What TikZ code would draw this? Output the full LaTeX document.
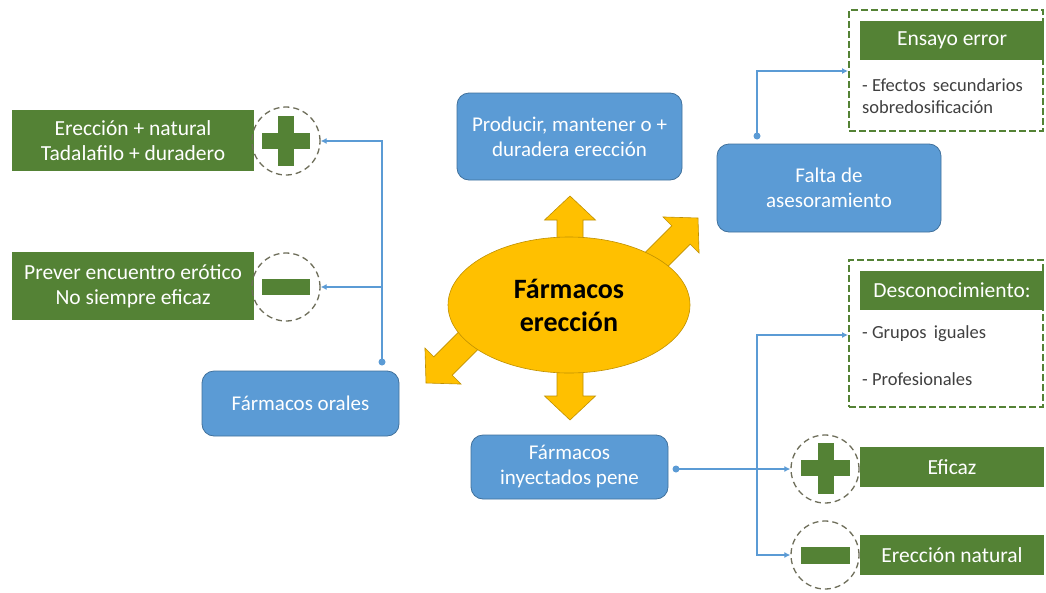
\documentclass[tikz,border=0pt]{standalone}
\usepackage{fontspec}
\setmainfont{Carlito}
\usetikzlibrary{arrows.meta,shapes.geometric}
\definecolor{grn}{HTML}{548235}
\definecolor{blu}{HTML}{5B9BD5}
\definecolor{bludark}{HTML}{41719C}
\definecolor{gold}{HTML}{FFC000}
\definecolor{golddark}{HTML}{BF9000}
\definecolor{circgray}{HTML}{6E6E5A}
\definecolor{txtgray}{HTML}{404040}
\tikzset{
  greenbox/.style={rectangle, fill=grn, text=white, inner sep=0pt, align=center, font=\fontsize{21.5}{25}\selectfont},
  bluebox/.style={rectangle, fill=blu, draw=bludark, line width=0.8pt, rounded corners=12pt, text=white, inner sep=0pt, align=center, font=\fontsize{21}{25}\selectfont},
  dcirc/.style={circle, draw=circgray, line width=1.3pt, dash pattern=on 6pt off 4pt, minimum size=68pt, inner sep=0pt},
  dbox/.style={rectangle, draw=grn, line width=2pt, dash pattern=on 7pt off 3pt, inner sep=0pt},
  sign/.style={fill=grn},
  conn/.style={draw=blu, line width=1.8pt, -{Latex[length=6pt,width=6pt]}},
  dotc/.style={circle, fill=blu, inner sep=0pt, minimum size=7pt},
  gaw/.style={fill=gold, draw=golddark, line width=0.6pt, line join=miter},
  itemtxt/.style={text=txtgray, anchor=west, inner sep=0pt, font=\fontsize{18.5}{22}\selectfont}
}
\newcommand{\goldarrow}[3]{% tip, angle, length
  \draw[gaw, shift={(#1)}, rotate=#2] (0,0) -- (-24,25.5) -- (-24,13) -- (-#3,13) -- (-#3,-13) -- (-24,-13) -- (-24,-25.5) -- cycle;}
\begin{document}
\begin{tikzpicture}[x=1pt,y=-1pt]
\useasboundingbox (0,0) rectangle (1046,592);
\fill[white] (0,0) rectangle (1046,592);

% gold arrows behind ellipse
\goldarrow{570,196}{90}{70}
\goldarrow{570,420}{-90}{70}
\goldarrow{698,218}{45}{100}
\goldarrow{426,383}{-135}{100}
\node[ellipse, fill=gold, draw=golddark, line width=0.6pt, minimum width=242pt, minimum height=136pt, inner sep=0pt,
  align=center, font=\bfseries\fontsize{28}{33}\selectfont] (center) at (569,305) {Fármacos\\erección};

% blue boxes
\node[bluebox, minimum width=225pt, minimum height=87pt] (prod) at (569.5,136.5) {Producir, mantener o +\\duradera erección};
\node[bluebox, minimum width=224pt, minimum height=88pt] (falta) at (829,188) {Falta de\\asesoramiento};
\node[bluebox, minimum width=197pt, minimum height=65pt] (orales) at (300.5,403.5) {Fármacos orales};
\node[bluebox, minimum width=197pt, minimum height=64pt] (iny) at (569.5,467) {Fármacos\\inyectados pene};

% left green boxes and circles
\node[greenbox, minimum width=242pt, minimum height=61pt] (g1) at (133,140.5) {Erección + natural\\Tadalafilo + duradero};
\node[greenbox, minimum width=242pt, minimum height=68pt] (g2) at (133,286) {Prever encuentro erótico\\No siempre eficaz};
\node[dcirc] (c1) at (286,141) {};
\node[dcirc] (c2) at (286,287) {};
\fill[sign] (262,133) rectangle (310,149);
\fill[sign] (278,116) rectangle (294,166);
\fill[sign] (262,279) rectangle (310,295);

% right dashed boxes
\node[dbox, minimum width=194pt, minimum height=121pt] (db1) at (946,70.5) {};
\node[greenbox, minimum width=184pt, minimum height=39pt] (ens) at (952,40.5) {Ensayo error};
\node[itemtxt] (t1) at (862,85) {- Efectos \,secundarios};
\node[itemtxt] (t2) at (862,107) {sobredosificación};

\node[dbox, minimum width=194pt, minimum height=147pt] (db2) at (946,333.5) {};
\node[greenbox, minimum width=184pt, minimum height=39pt] (desc) at (952,290.5) {Desconocimiento:};
\node[itemtxt] (t3) at (862,334) {- Grupos \,iguales};
\node[itemtxt] (t4) at (862,379) {- Profesionales};

% right green boxes with circles
\node[dcirc] (c3) at (825,469) {};
\node[dcirc] (c4) at (825,555) {};
\fill[sign] (801,460) rectangle (850,476);
\fill[sign] (818,443) rectangle (834,494);
\fill[sign] (801,547) rectangle (850,564);
\node[greenbox, minimum width=184pt, minimum height=40pt] (efi) at (952,467) {Eficaz};
\node[greenbox, minimum width=184pt, minimum height=40pt] (nat) at (952,555) {Erección natural};

% connectors
\node[dotc] (d1) at (382,362) {};
\draw[conn] (d1.center) |- (c1.east);
\draw[conn] (d1.center) |- (c2.east);
\node[dotc] (d3) at (757,136) {};
\coordinate (a1) at (db1.west |- 0,71);
\draw[conn] (d3.center) |- (a1);
\node[dotc] (d2) at (676,469) {};
\coordinate (j2) at (757,469);
\coordinate (a2) at (db2.west |- 0,335);
\draw[conn] (d2.center) -- (c3.west);
\draw[conn] (j2) |- (a2);
\draw[conn] (j2) |- (c4.west);
\end{tikzpicture}
\end{document}
